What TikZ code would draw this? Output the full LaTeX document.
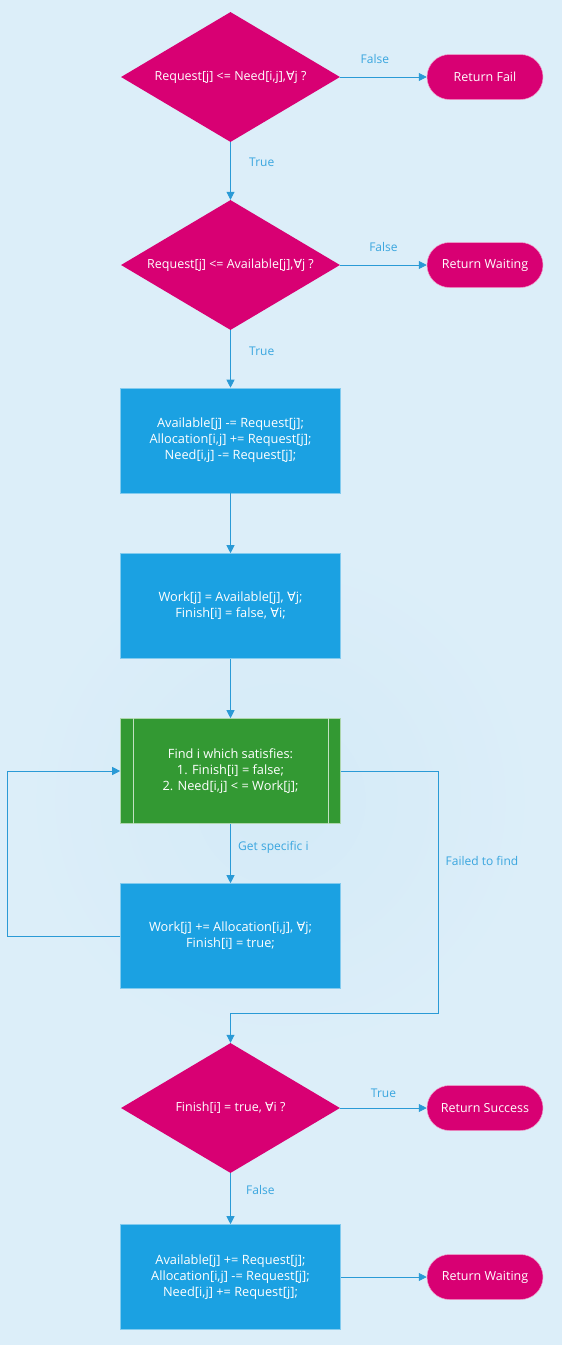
\documentclass[tikz,border=0pt]{standalone}
\usepackage{fontspec}
\setmainfont{Open Sans}
\newfontfamily\dvsans{DejaVu Sans}
\usetikzlibrary{shapes.geometric,arrows.meta,calc}
\definecolor{bgc}{HTML}{DCEEF9}
\definecolor{mag}{HTML}{D80073}
\definecolor{bluebox}{HTML}{1BA1E2}
\definecolor{greenbox}{HTML}{339933}
\definecolor{linec}{HTML}{2A9AD6}
\definecolor{labc}{HTML}{3AA6DF}
\newcommand{\fa}{{\dvsans\char"2200}}
\tikzset{
  dec/.style={diamond, aspect=1.68, fill=mag, text=white, minimum width=219pt, minimum height=130pt, inner sep=0pt, font=\fontsize{12.5}{15}\selectfont},
  term/.style={rectangle, rounded corners=22.5pt, fill=mag, draw=white!60!mag, line width=0.5pt, text=white, minimum width=116pt, minimum height=45pt, inner sep=0pt, font=\fontsize{12.5}{15}\selectfont},
  proc/.style={rectangle, fill=bluebox, draw=white!45!bluebox, line width=0.6pt, text=white, minimum width=220pt, minimum height=105pt, inner sep=0pt, align=center, font=\fontsize{12.8}{16}\selectfont},
  sub/.style={proc, fill=greenbox, draw=white!60!greenbox},
  conn/.style={draw=linec, line width=0.8pt, -{Triangle[length=8pt,width=8pt]}},
  lab/.style={text=labc, font=\fontsize{12}{14}\selectfont},
}
\begin{document}
\begin{tikzpicture}[x=1pt,y=-1pt]
\fill[bgc] (0,0) rectangle (562,1345);
\shade[inner color=bgc!85!linec!70!white, outer color=bgc, draw=none] (280,800) circle (260);
\useasboundingbox (0,0) rectangle (562,1345);

\node[dec] (d1) at (230.5,77) {Request[j] <= Need[i,j],\fa j ?};
\node[term] (fail) at (485,77) {Return Fail};
\node[dec] (d2) at (230.5,265) {Request[j] <= Available[j],\fa j ?};
\node[term] (wait1) at (485,265) {Return Waiting};
\node[proc] (p1) at (230.5,440.5) {Available[j] -= Request[j];\\Allocation[i,j] += Request[j];\\Need[i,j] -= Request[j];};
\node[proc] (p2) at (230.5,606) {Work[j] = Available[j], \fa j;\\Finish[i] = false, \fa i;};
\node[sub] (find) at (230.5,771) {Find i which satisfies:\\1. Finish[i] = false;\\2. Need[i,j] < = Work[j];};
\draw[white!70!greenbox, line width=0.6pt] ($(find.north west)+(13,0)$) -- ($(find.south west)+(13,0)$);
\draw[white!70!greenbox, line width=0.6pt] ($(find.north east)+(-13,0)$) -- ($(find.south east)+(-13,0)$);
\node[proc] (p3) at (230.5,936) {Work[j] += Allocation[i,j], \fa j;\\Finish[i] = true;};
\node[dec] (d3) at (230.5,1108) {Finish[i] = true, \fa i ?};
\node[term] (succ) at (485,1108) {Return Success};
\node[proc] (p4) at (230.5,1277) {Available[j] += Request[j];\\Allocation[i,j] -= Request[j];\\Need[i,j] += Request[j];};
\node[term] (wait2) at (485,1277) {Return Waiting};

\coordinate (lf) at (7,936);
\coordinate (lt) at (7,771);
\coordinate (rt) at (438,771);
\coordinate (rb) at (438,1013);
\coordinate (mb) at (230.5,1013);

\draw[conn] (d1.east) -- node[lab, above=10pt, pos=0.4] {False} (fail.west);
\draw[conn] (d1.south) -- node[lab, right=15pt, pos=0.35] {True} (d2.north);
\draw[conn] (d2.east) -- node[lab, above=10pt] {False} (wait1.west);
\draw[conn] (d2.south) -- node[lab, right=15pt, pos=0.37] {True} (p1.north);
\draw[conn] (p1.south) -- (p2.north);
\draw[conn] (p2.south) -- (find.north);
\draw[conn] (find.south) -- node[lab, right=4pt, pos=0.4] {Get specific i} (p3.north);
\draw[conn] (p3.west) -- (lf) -- (lt) -- (find.west);
\draw[conn] (find.east) -- (rt) -- node[lab, right=4pt, pos=0.37] {Failed to find} (rb) -- (mb) -- (d3.north);
\draw[conn] (d3.east) -- node[lab, above=7pt] {True} (succ.west);
\draw[conn] (d3.south) -- node[lab, right=12pt, pos=0.33] {False} (p4.north);
\draw[conn] (p4.east) -- (wait2.west);
\end{tikzpicture}
\end{document}
